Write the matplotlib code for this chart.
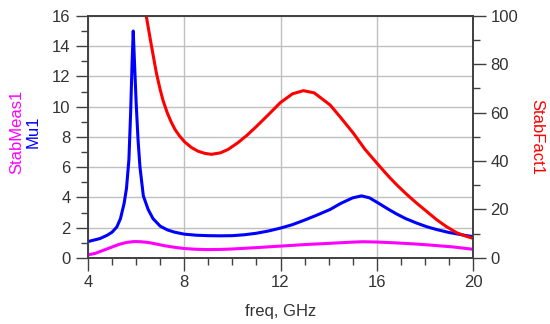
import numpy as np
import matplotlib.pyplot as plt
from matplotlib.ticker import MultipleLocator

plt.rcParams['font.family'] = ['Liberation Sans', 'DejaVu Sans']

# Mu1 (left axis)
mu_freq = [4.0, 4.5, 4.8, 5.0, 5.2, 5.35, 5.5, 5.6, 5.7, 5.77, 5.83, 5.88,
           5.93, 6.0, 6.08, 6.16, 6.3, 6.5, 6.7, 7.0, 7.3, 7.6, 8.0, 8.5, 9.0,
           9.5, 10.0, 10.5, 11.0, 11.5, 12.0, 12.5, 13.0, 13.5, 14.06, 14.5,
           15.0, 15.37, 15.7, 16.07, 16.5, 16.83, 17.2, 17.66, 18.1, 18.5,
           19.0, 19.32, 19.7, 20.0]
mu_vals = [1.08, 1.28, 1.5, 1.7, 2.05, 2.6, 3.6, 4.6, 6.5, 9.5, 12.8, 15.0,
           13.0, 10.3, 7.8, 6.0, 4.1, 3.2, 2.6, 2.1, 1.85, 1.7, 1.57, 1.5, 1.47,
           1.46, 1.47, 1.53, 1.63, 1.78, 1.97, 2.2, 2.5, 2.82, 3.2, 3.6,
           3.97, 4.1, 3.97, 3.62, 3.2, 2.9, 2.6, 2.3, 2.05, 1.87,
           1.68, 1.59, 1.48, 1.41]

# StabMeas1 (left axis)
sm_freq = [4.0, 4.3, 4.6, 5.0, 5.3, 5.6, 5.9, 6.2, 6.5, 6.8, 7.2, 7.6, 8.0,
           8.5, 9.0, 9.5, 10.0, 11.0, 12.0, 13.0, 14.0, 14.7, 15.4, 16.0, 16.7,
           17.5, 18.3, 19.2, 20.0]
sm_vals = [0.2, 0.3, 0.48, 0.72, 0.9, 1.02, 1.08, 1.07, 1.02, 0.93, 0.8, 0.7,
           0.62, 0.57, 0.55, 0.56, 0.59, 0.68, 0.78, 0.88, 0.96, 1.02, 1.07,
           1.05, 1.0, 0.93, 0.84, 0.72, 0.57]

# StabFact1 (right axis)
sf_freq = [6.3, 6.42, 6.63, 6.84, 7.0, 7.12, 7.3, 7.45, 7.62, 7.81, 8.02,
           8.3, 8.57, 8.85, 9.13, 9.5, 9.82, 10.23, 10.6, 11.0, 11.5, 12.0,
           12.5, 12.95, 13.4, 14.06, 14.5, 15.03, 15.5, 16.07, 16.5, 16.83,
           17.25, 17.66, 18.1, 18.5, 18.9, 19.32, 19.7, 20.0]
sf_vals = [112, 100, 88.0, 76.5, 69.5, 65.0, 59.8, 56.3, 53.0, 50.3, 47.9,
           45.6, 44.1, 43.2, 42.8, 43.4, 44.8, 47.6, 50.6, 54.3, 59.2, 64.2,
           67.8, 69.1, 68.2, 63.2, 58.0, 51.5, 45.0, 38.4, 33.6, 30.2,
           26.2, 22.6, 19.0, 15.7, 12.9, 10.4, 9.0, 8.1]

fig = plt.figure(figsize=(5.5, 3.24), dpi=100)
ax = fig.add_axes([0.16, 0.204, 0.70, 0.747])
ax2 = ax.twinx()

ax.plot(sm_freq, sm_vals, color='#ff00ff', lw=2.2, zorder=3,
        solid_joinstyle='round')
ax.plot(mu_freq, mu_vals, color='#0000ff', lw=2.2, zorder=4,
        solid_joinstyle='round')
ax2.plot(sf_freq, sf_vals, color='#ff0000', lw=2.2, solid_joinstyle='round')

ax.set_xlim(4, 20)
ax.set_ylim(0, 16)
ax2.set_ylim(0, 100)

ax.xaxis.set_major_locator(MultipleLocator(4))
ax.xaxis.set_minor_locator(MultipleLocator(1))
ax.yaxis.set_major_locator(MultipleLocator(2))
ax.yaxis.set_minor_locator(MultipleLocator(1))
ax2.yaxis.set_major_locator(MultipleLocator(20))
ax2.yaxis.set_minor_locator(MultipleLocator(10))

ax.grid(True, which='major', color='#c0c0c0', lw=1.0)
ax.set_axisbelow(True)

for a in (ax, ax2):
    a.tick_params(which='major', length=9, width=1, color='#404040',
                  labelsize=12, labelcolor='#333333')
    a.tick_params(which='minor', length=5, width=1, color='#404040')
    for s in a.spines.values():
        s.set_color('#404040')
        s.set_linewidth(1.2)

ax.set_xlabel('freq, GHz', fontsize=12, color='#333333', labelpad=10)

fig.text(0.031, 0.593, 'StabMeas1', rotation=90, color='#ff00ff', fontsize=12,
         ha='center', va='center')
fig.text(0.061, 0.593, 'Mu1', rotation=90, color='#0000ff', fontsize=12,
         ha='center', va='center')
fig.text(0.976, 0.577, 'StabFact1', rotation=-90, color='#ff0000', fontsize=12,
         ha='center', va='center')

fig.savefig('out.png', dpi=100)
